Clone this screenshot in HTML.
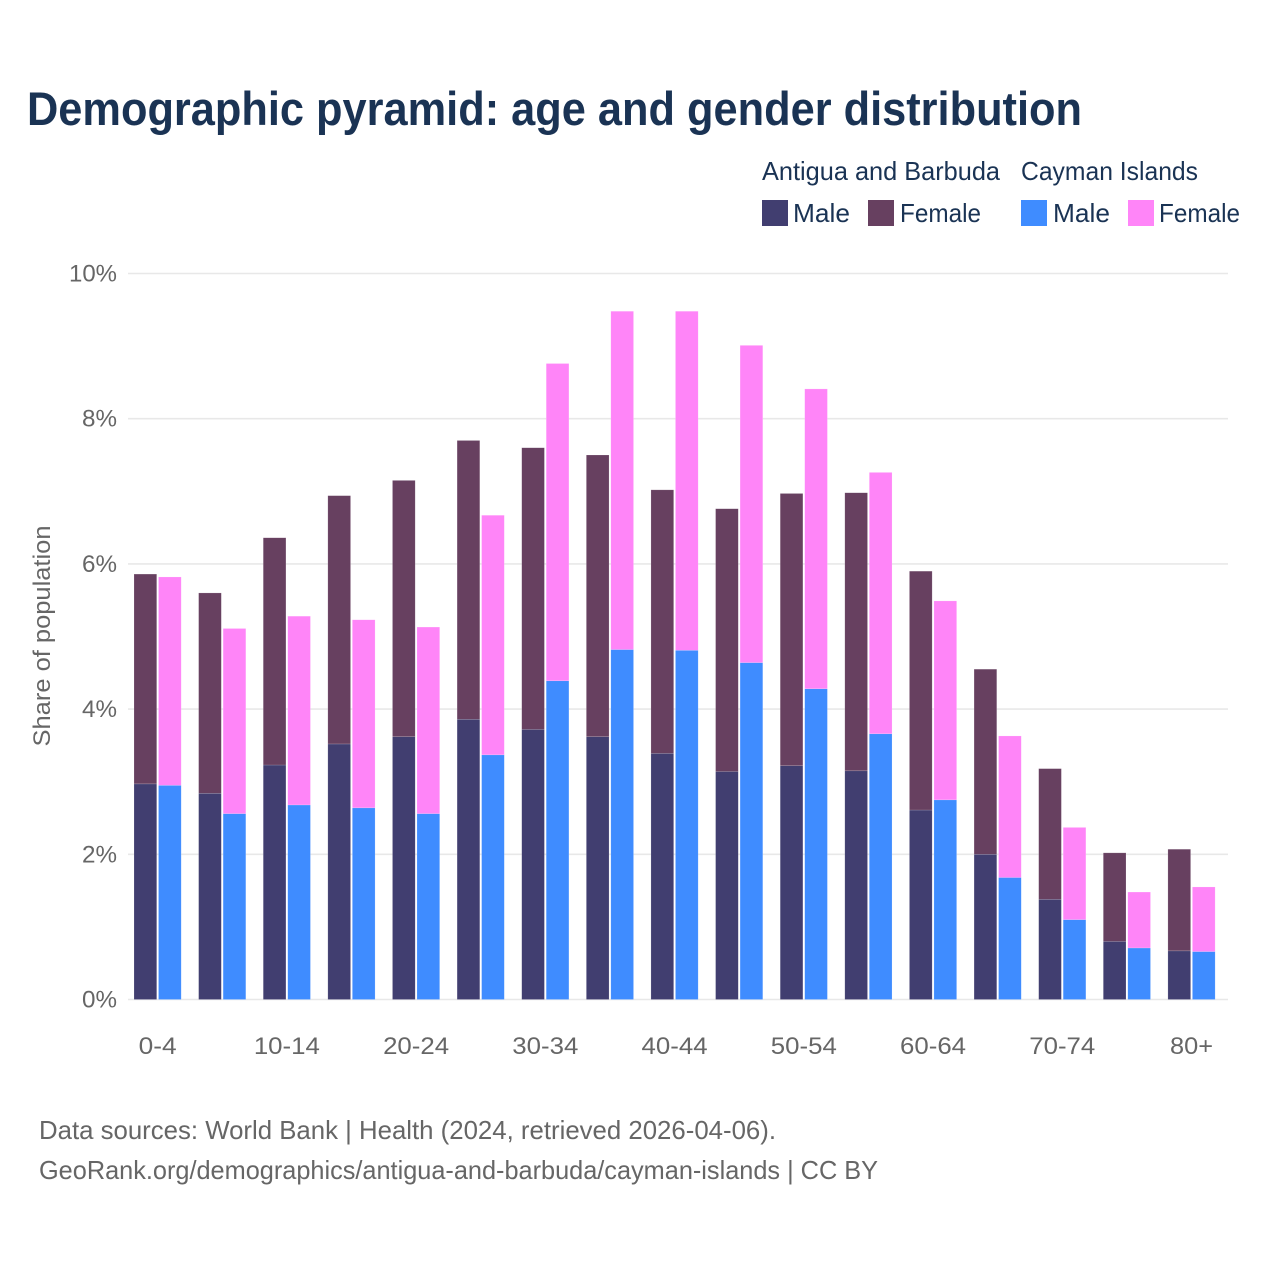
<!DOCTYPE html>
<html lang="en">
<head>
<meta charset="utf-8">
<title>Demographic pyramid: age and gender distribution</title>
<style>
html,body{margin:0;padding:0;background:#fff;width:1280px;height:1280px;overflow:hidden}
svg{display:block}
text{font-family:"Liberation Sans",sans-serif}
.tick{font-size:24px;fill:#666}
.leg{font-size:26px;fill:#1a3354}
.src{font-size:26px;fill:#666}
</style>
</head>
<body>
<svg id="chart" xmlns="http://www.w3.org/2000/svg" width="1280" height="1280" viewBox="0 0 1280 1280">
  <text x="27" y="125" font-size="47" font-weight="700" fill="#1a3354" textLength="1055" lengthAdjust="spacingAndGlyphs">Demographic pyramid: age and gender distribution</text>

  <g>
    <text class="leg" x="762" y="180" textLength="238" lengthAdjust="spacingAndGlyphs">Antigua and Barbuda</text>
    <text class="leg" x="1021" y="180" textLength="177" lengthAdjust="spacingAndGlyphs">Cayman Islands</text>
    <rect x="762" y="200" width="26" height="26" fill="#413e70"/>
    <text class="leg" x="793" y="222" textLength="57" lengthAdjust="spacingAndGlyphs">Male</text>
    <rect x="868" y="200" width="26" height="26" fill="#674060"/>
    <text class="leg" x="900" y="222" textLength="81" lengthAdjust="spacingAndGlyphs">Female</text>
    <rect x="1021" y="200" width="26" height="26" fill="#3f8cff"/>
    <text class="leg" x="1053" y="222" textLength="57" lengthAdjust="spacingAndGlyphs">Male</text>
    <rect x="1128" y="200" width="26" height="26" fill="#ff85f8"/>
    <text class="leg" x="1159" y="222" textLength="81" lengthAdjust="spacingAndGlyphs">Female</text>
  </g>

  <g id="grid"></g>
  <g id="yticks"></g>
  <g id="bars"></g>
  <g id="xticks"></g>

  <text class="tick" transform="translate(50,636) rotate(-90)" text-anchor="middle" textLength="221" lengthAdjust="spacingAndGlyphs">Share of population</text>

  <text class="src" x="39" y="1139" textLength="737" lengthAdjust="spacingAndGlyphs">Data sources: World Bank | Health (2024, retrieved 2026-04-06).</text>
  <text class="src" x="39" y="1179" textLength="839" lengthAdjust="spacingAndGlyphs">GeoRank.org/demographics/antigua-and-barbuda/cayman-islands | CC BY</text>
</svg>
<script>
const categories = ["0-4","5-9","10-14","15-19","20-24","25-29","30-34","35-39","40-44","45-49","50-54","55-59","60-64","65-69","70-74","75-79","80+"];
const antiguaMale = [2.97,2.84,3.23,3.52,3.62,3.86,3.72,3.62,3.39,3.14,3.22,3.15,2.61,2.00,1.38,0.80,0.67];
const antiguaFemale = [2.89,2.76,3.13,3.42,3.53,3.84,3.88,3.88,3.63,3.62,3.75,3.83,3.29,2.55,1.80,1.22,1.40];
const caymanMale = [2.95,2.56,2.68,2.64,2.56,3.37,4.39,4.82,4.81,4.64,4.28,3.66,2.75,1.68,1.10,0.71,0.66];
const caymanFemale = [2.87,2.55,2.60,2.59,2.57,3.30,4.37,4.66,4.67,4.37,4.13,3.60,2.74,1.95,1.27,0.77,0.89];
const yTicks = [0,2,4,6,8,10];
const xLabelEvery = 2;

const NS = "http://www.w3.org/2000/svg";
const plotLeft = 128, plotRight = 1228, y0 = 999.5, pxPerUnit = 72.6;
const firstX = 134, step = 64.62, barW = 22.7, pairGap = 1.8;
function yScale(v){ return y0 - v * pxPerUnit; }
function xScale(i, seriesIdx){ return firstX + i * step + seriesIdx * (barW + pairGap); }
function make(tag, attrs, parent){
  const el = document.createElementNS(NS, tag);
  for (const k in attrs) el.setAttribute(k, attrs[k]);
  parent.appendChild(el);
  return el;
}
const grid = document.getElementById("grid");
const yt = document.getElementById("yticks");
const xt = document.getElementById("xticks");
const bars = document.getElementById("bars");

yTicks.forEach(function(t){
  const line = make("line", {x1:plotLeft, x2:plotRight, y1:yScale(t), y2:yScale(t), stroke:"#e8e8e8", "stroke-width":1.6}, grid);
  
  
  const label = make("text", {class:"tick", x:117, y:yScale(t)+8, "text-anchor":"end"}, yt);
  
  
  label.textContent = t + "%";
  label.setAttribute("textLength", t >= 10 ? 48 : 35);
  label.setAttribute("lengthAdjust", "spacingAndGlyphs");
});

function drawStack(maleVals, femaleVals, seriesIdx, maleColor, femaleColor){
  categories.forEach(function(c, i){
    const x = xScale(i, seriesIdx);
    const m = maleVals[i], f = femaleVals[i];
    const r1 = make("rect", {x:x, y:yScale(m), width:barW, height:y0 - yScale(m), fill:maleColor, stroke:"#fff", "stroke-opacity":0.3, "stroke-width":0.5}, bars);
    
    
    const r2 = make("rect", {x:x, y:yScale(m+f), width:barW, height:yScale(m) - yScale(m+f), fill:femaleColor, stroke:"#fff", "stroke-opacity":0.3, "stroke-width":0.5}, bars);
    
    
  });
}
drawStack(antiguaMale, antiguaFemale, 0, "#413e70", "#674060");
drawStack(caymanMale, caymanFemale, 1, "#3f8cff", "#ff85f8");

categories.forEach(function(c, i){
  if (i % xLabelEvery !== 0) return;
  const label = make("text", {class:"tick", x:xScale(i,0) + barW + pairGap/2, y:1054, "text-anchor":"middle"}, xt);
  
  
  label.textContent = c;
  if (c.length === 5) { label.setAttribute("textLength", 66); label.setAttribute("lengthAdjust", "spacingAndGlyphs"); }
  else if (c === "0-4") { label.setAttribute("textLength", 38); label.setAttribute("lengthAdjust", "spacingAndGlyphs"); }
  else { label.setAttribute("textLength", 43); label.setAttribute("lengthAdjust", "spacingAndGlyphs"); }
});
</script>
</body>
</html>
